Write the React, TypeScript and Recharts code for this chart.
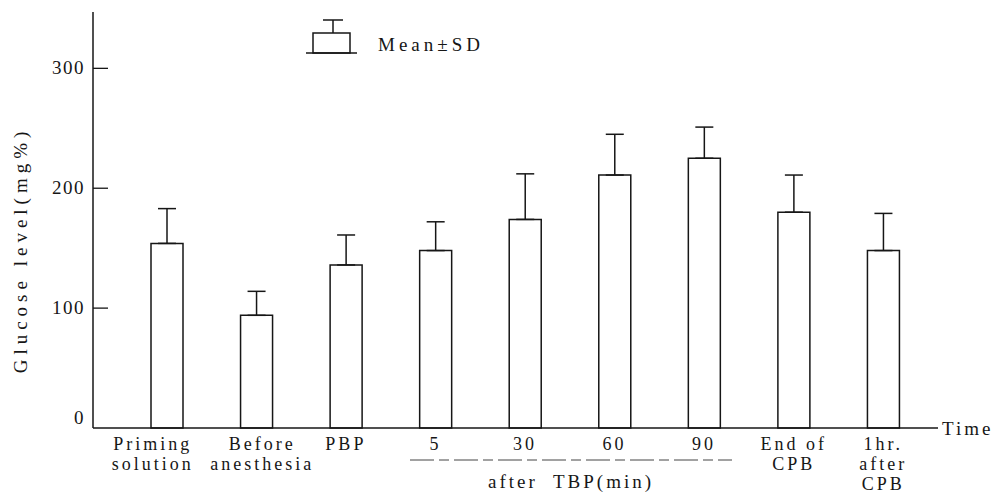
import React from "react";
import { BarChart, Bar, XAxis, YAxis, ErrorBar } from "recharts";

// glucose level (mg%) per time point
const categories = [
  "Priming\nsolution",
  "Before\nanesthesia",
  "PBP",
  "5",
  "30",
  "60",
  "90",
  "End of\nCPB",
  "1hr.\nafter\nCPB",
];
const meanGlucose = [154, 94, 136, 148, 174, 211, 225, 180, 148];
const sdGlucose = [29, 20, 25, 24, 38, 34, 26, 31, 31];
const yTicks = [0, 100, 200, 300];

const data = categories.map((name, i) => ({
  name,
  mean: meanGlucose[i],
  err: [0, sdGlucose[i]],
}));

const font = "Liberation Serif";
const ink = "#161616";
const txt = { fontFamily: font, fontSize: 19 };

function YTick({ x, y, payload }: any) {
  const v = payload.value;
  return (
    <g>
      {v !== 0 && <line x1={x} x2={x + 15} y1={y} y2={y} stroke={ink} strokeWidth={1.3} />}
      <text
        x={x - 8}
        y={v === 0 ? y - 10 : y}
        dy={6}
        textAnchor="end"
        style={{ ...txt, letterSpacing: 1.5 }}
        fill={ink}
      >
        {v}
      </text>
    </g>
  );
}

function XTick({ x, y, payload, index }: any) {
  const lines = String(payload.value).split("\n");
  // the first two labels sit a little apart in the original
  const cx = x + (index === 0 ? -14 : index === 1 ? 6 : 0);
  return (
    <text x={cx} y={y + 20} textAnchor="middle" style={{ fontFamily: font, fontSize: 18, letterSpacing: 3 }} fill={ink}>
      {lines.map((l, i) => (
        <tspan key={i} x={cx} dy={i === 0 ? 0 : 20}>
          {l}
        </tspan>
      ))}
    </text>
  );
}

export default function App() {
  return (
    <div style={{ position: "absolute", left: 0, top: 0, width: 1007, height: 494, background: "#fff" }}>
      <BarChart width={1007} height={494} data={data} margin={{ top: 12, right: 69, bottom: 6, left: 33 }}>
        <XAxis
          dataKey="name"
          interval={0}
          height={60}
          padding={{ left: 29, right: 10 }}
          tickLine={false}
          tickSize={0}
          axisLine={{ stroke: ink, strokeWidth: 1.5 }}
          tick={<XTick />}
        />
        <YAxis
          width={60}
          domain={[0, 347]}
          ticks={yTicks}
          tickLine={false}
          tickSize={0}
          tickMargin={0}
          axisLine={{ stroke: ink, strokeWidth: 1.5 }}
          tick={<YTick />}
        />
        <Bar dataKey="mean" barSize={32} fill="#fff" stroke={ink} strokeWidth={1.5} isAnimationActive={false}>
          <ErrorBar dataKey="err" direction="y" width={9} stroke={ink} strokeWidth={1.5} isAnimationActive={false} />
        </Bar>
      </BarChart>

      <svg
        width={1007}
        height={494}
        style={{ position: "absolute", left: 0, top: 0, pointerEvents: "none" }}
      >
        {/* y axis title */}
        <text
          transform="translate(27,250) rotate(-90)"
          textAnchor="middle"
          style={{ ...txt, letterSpacing: 5 }}
          fill={ink}
        >
          Glucose level(mg%)
        </text>

        {/* key */}
        <line x1={333} x2={333} y1={20} y2={33} stroke={ink} strokeWidth={1.5} />
        <line x1={323} x2={343} y1={20} y2={20} stroke={ink} strokeWidth={1.5} />
        <rect x={313} y={33} width={37} height={20} fill="#fff" stroke={ink} strokeWidth={1.5} />
        <line x1={306} x2={357} y1={53} y2={53} stroke={ink} strokeWidth={1.5} />
        <text x={378} y={51} style={{ ...txt, letterSpacing: 4 }} fill={ink}>
          Mean±SD
        </text>

        {/* axis annotations */}
        <text x={942} y={435} style={{ ...txt, letterSpacing: 3 }} fill={ink}>
          Time
        </text>
        <line x1={410} x2={732} y1={460} y2={460} stroke="#444" strokeWidth={1} strokeDasharray="24 5 10 5" />
        <text x={488} y={488} style={{ ...txt, letterSpacing: 3, whiteSpace: "pre" }} fill={ink}>
          {"after  TBP(min)"}
        </text>
      </svg>
    </div>
  );
}
